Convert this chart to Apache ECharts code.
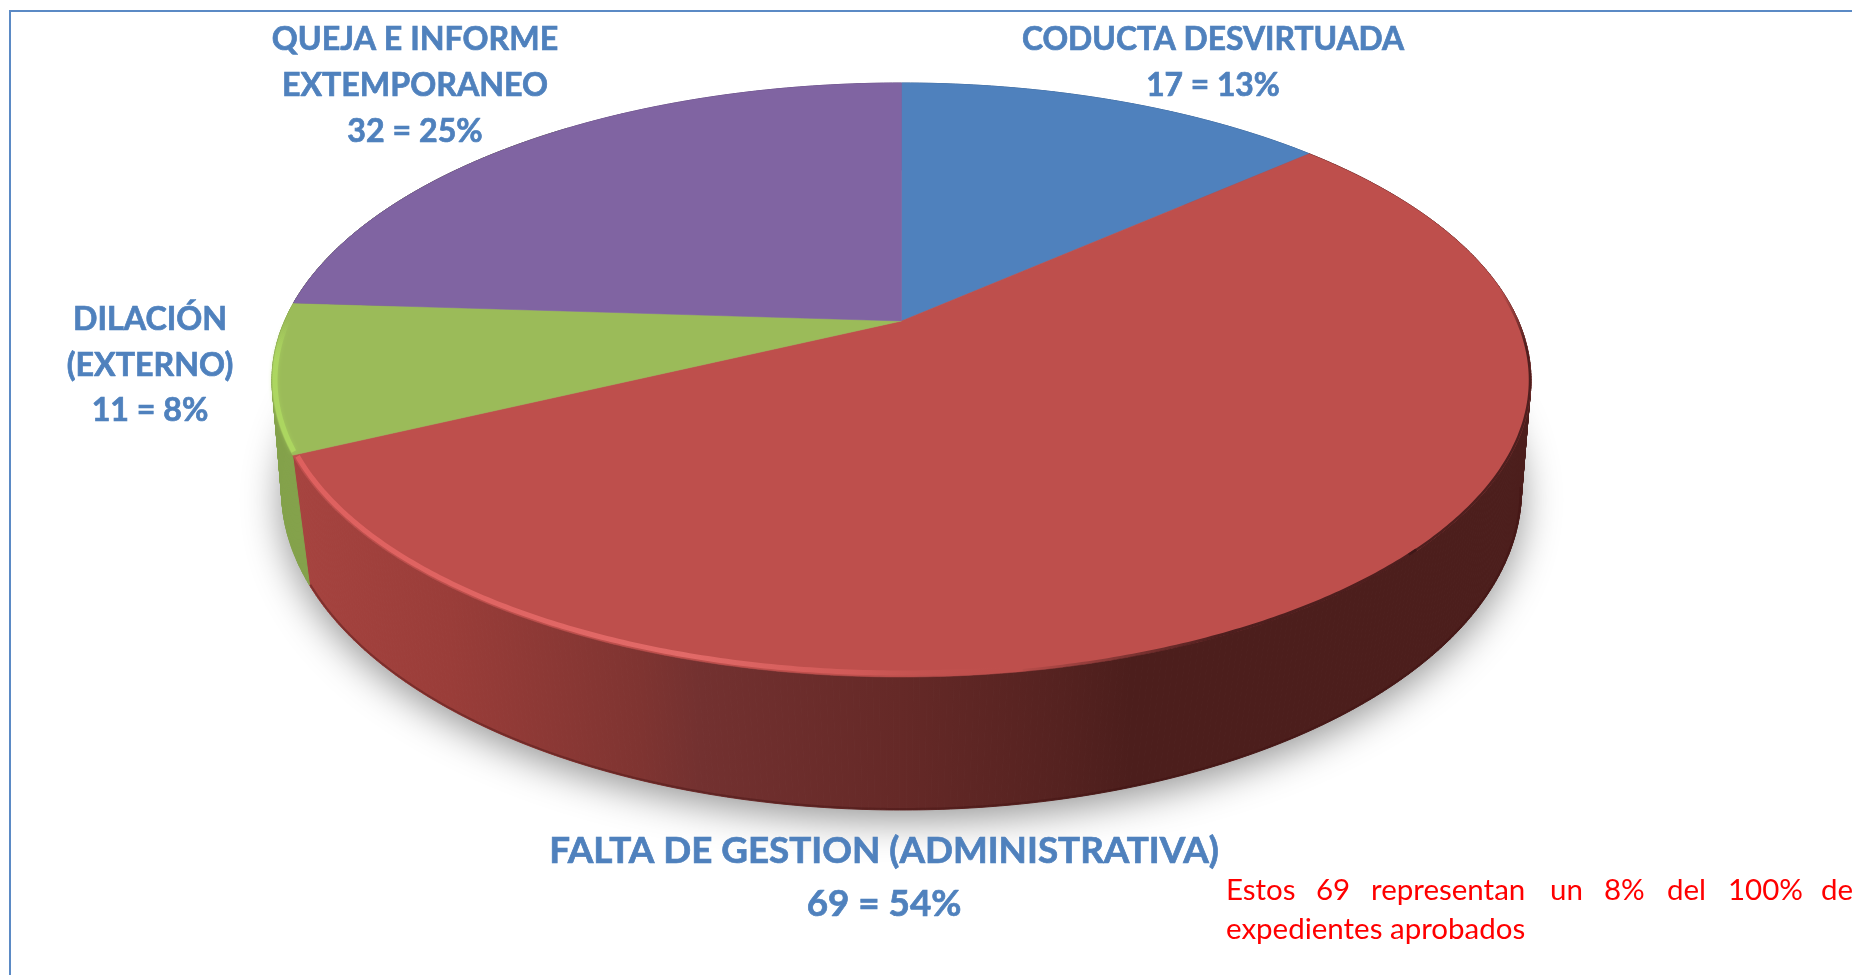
<!DOCTYPE html>
<html><head><meta charset="utf-8">
<style>html,body{margin:0;padding:0;background:#fff;overflow:hidden}#c{width:1852px;height:975px}</style>
<script src="https://cdn.jsdelivr.net/npm/echarts@6/dist/echarts.min.js"></script>
</head><body><div id="c"></div>
<script>
// ---- data ----
const categories = ['CODUCTA DESVIRTUADA', 'FALTA DE GESTION (ADMINISTRATIVA)', 'DILACIÓN (EXTERNO)', 'QUEJA E INFORME EXTEMPORANEO'];
const values = [17, 69, 11, 32];
const percents = [13, 54, 8, 25];
const colors = ['#4F81BD', '#BE4F4C', '#9BBB59', '#8064A2'];
const wallColors = ['#3F6797', '#A3423D', '#84A24B', '#664E82'];
const labelLines = [['CODUCTA DESVIRTUADA'], ['FALTA DE GESTION (ADMINISTRATIVA)'], ['DILACIÓN', '(EXTERNO)'], ['QUEJA E INFORME', 'EXTEMPORANEO']];
const noteWords = ['Estos', '69', 'representan', 'un', '8%', 'del', '100%', 'de'];
const noteLine2 = 'expedientes aprobados';

// ---- layout only ----
const labelPos = [
  {x: 1213, y: 40, lh: 45.5, size: 31.8},
  {x: 884, y: 851, lh: 53, size: 36.8},
  {x: 150, y: 320, lh: 45.5, size: 32.2},
  {x: 415, y: 39.5, lh: 46, size: 32.2}
];
const noteX = [1226, 1316, 1371, 1550, 1604, 1667, 1728, 1821];
const topDisc = {cx: 901.5, cy: 380, rx: 629.5, ry: 297, v0: -59 / 297};
const botDisc = {cx: 901.5, cy: 490, rx: 620, ry: 320, v0: -0.153};
const total = values.reduce((a, b) => a + b, 0);
const angles = []; values.reduce((s, v, i) => { angles[i] = [s / total * 360, (s + v) / total * 360]; return s + v; }, 0);

// perspective projection of a pie angle (clockwise from 12 o'clock) on a tilted disc
function proj(e, deg, inset) {
  const s = Math.sin(deg * Math.PI / 360);
  const t = (deg + 6 * s * s) * Math.PI / 180;
  const X = Math.sin(t), Y = -Math.cos(t), d = 1 + e.v0 * Y;
  const u = X * Math.sqrt(1 - e.v0 * e.v0) / d, v = (Y + e.v0) / d;
  const i = inset || 0;
  return [e.cx + u * (e.rx - i), e.cy + v * (e.ry - i)];
}
function arc(e, a, b, inset) {
  const n = Math.max(2, Math.ceil(Math.abs(b - a) * 2)), p = [];
  for (let i = 0; i <= n; i++) p.push(proj(e, a + (b - a) * i / n, inset));
  return p;
}
const G = (x0, y0, x1, y1, stops) => new echarts.graphic.LinearGradient(x0, y0, x1, y1, stops.map(s => ({offset: s[0], color: s[1]})), true);
const indexData = values.map((v, i) => [i, v]);

// wall shading across the picture
const xs = x => (x - 300) / 830;
const redWall = G(300, 0, 1130, 0, [[0, '#A6433F'], [xs(450), '#9A3D39'], [xs(640), '#7F3431'], [xs(700), '#733130'], [xs(900), '#652927'], [xs(1060), '#552220'], [1, '#4C1E1C']]);
const wallFill = [wallColors[0], redWall, wallColors[2], wallColors[3]];
const redRim = G(295, 0, 1010, 0, [[0, '#DE605E'], [0.55, '#E26A68'], [0.78, 'rgba(216,94,92,0.75)'], [1, 'rgba(190,79,76,0)']]);
const greenRim = G(0, 320, 0, 450, [[0, 'rgba(172,214,96,0)'], [0.3, '#ACD660'], [1, '#ACD660']]);
const darkEdgeUpper = G(0, 290, 0, 345, [[0, 'rgba(60,22,22,0)'], [1, 'rgba(60,22,22,0.85)']]);
const darkEdgeLower = G(1010, 0, 1220, 0, [[0, 'rgba(60,22,22,0)'], [1, 'rgba(60,22,22,0.85)']]);

const option = {
  backgroundColor: '#fff', animation: false,
  graphic: [
    {type: 'rect', silent: true, z: 0, shape: {x: 10, y: 11, width: 2000, height: 1000}, style: {fill: 'none', stroke: '#5B8AC5', lineWidth: 2}},
    ...noteWords.map((w, i) => ({type: 'text', silent: true, z: 20, x: noteX[i], y: 890, style: {text: w, fill: '#FF0000', font: '29.5px Lato', verticalAlign: 'middle'}})),
    {type: 'text', silent: true, z: 20, x: 1226, y: 929, style: {text: noteLine2, fill: '#FF0000', font: '29.5px Lato', verticalAlign: 'middle'}}
  ],
  series: [
    { // drop shadow under the disc
      type: 'custom', coordinateSystem: 'none', silent: true, z: 1, data: [[0]],
      renderItem: () => ({type: 'polygon', shape: {points: arc(botDisc, 0, 359.5)},
        style: {fill: '#b0b0b0', shadowBlur: 38, shadowColor: 'rgba(0,0,0,0.42)', shadowOffsetX: 0, shadowOffsetY: 10}})
    },
    { // side walls: one quad per small angular step so the silhouette between both rims stays full
      type: 'custom', coordinateSystem: 'none', silent: true, z: 2, data: indexData,
      renderItem: (p, api) => {
        const i = api.value(0), a = angles[i];
        const end = i === 2 ? a[1] + 50 : a[1];
        const T = arc(topDisc, a[0], end), B = arc(botDisc, a[0], end), children = [];
        for (let k = 0; k < T.length - 1; k++) {
          children.push({type: 'polygon', shape: {points: [T[k], T[k + 1], B[k + 1], B[k]]}, style: {fill: wallFill[i], stroke: wallFill[i], lineWidth: 1}});
        }
        return {type: 'group', children};
      }
    },
    { // thin darker foot of the wall
      type: 'custom', coordinateSystem: 'none', silent: true, z: 2.5, data: [[1]],
      renderItem: (p, api) => {
        const a = angles[api.value(0)];
        return {type: 'polyline', shape: {points: arc(botDisc, 95, a[1], 1)}, style: {fill: 'none', stroke: 'rgba(60,15,15,0.35)', lineWidth: 2}};
      }
    },
    { // top face
      type: 'custom', coordinateSystem: 'none', silent: true, z: 3, data: indexData,
      renderItem: (p, api) => {
        const i = api.value(0), a = angles[i];
        const c = [topDisc.cx, topDisc.cy + topDisc.ry * topDisc.v0];
        return {type: 'polygon', shape: {points: [c].concat(arc(topDisc, a[0], a[1]))}, style: {fill: colors[i], stroke: colors[i], lineWidth: 0.5}};
      }
    },
    { // bevelled rim of the two front slices
      type: 'custom', coordinateSystem: 'none', silent: true, z: 4, data: [[1], [2]],
      renderItem: (p, api) => {
        const i = api.value(0), a = angles[i];
        if (i === 2) {
          return {type: 'polyline', shape: {points: arc(topDisc, a[0] + 0.6, a[1] + 6, 3)},
            style: {fill: 'none', stroke: greenRim, lineWidth: 5, shadowBlur: 4, shadowColor: 'rgba(172,214,96,0.6)'}};
        }
        return {type: 'group', children: [
          {type: 'polyline', shape: {points: arc(topDisc, 75, 130, 1)},
            style: {fill: 'none', stroke: darkEdgeUpper, lineWidth: 2.5}},
          {type: 'polyline', shape: {points: arc(topDisc, 129, 165, 1)},
            style: {fill: 'none', stroke: darkEdgeLower, lineWidth: 3}},
          {type: 'polyline', shape: {points: arc(topDisc, 150, a[1] - 0.4, 4)},
            style: {fill: 'none', stroke: redRim, lineWidth: 5}}
        ]};
      }
    },
    { // data labels
      type: 'custom', coordinateSystem: 'none', silent: true, z: 10, data: indexData,
      renderItem: (p, api) => {
        const i = api.value(0), l = labelPos[i];
        const lines = labelLines[i].concat([values[i] + ' = ' + percents[i] + '%']);
        return {type: 'group', children: lines.map((t, k) => ({type: 'text', x: l.x, y: l.y + k * l.lh,
          style: {text: t, fill: '#4F81BD', stroke: '#4F81BD', lineWidth: 0.7, font: 'bold ' + l.size + 'px Lato', align: 'center', verticalAlign: 'middle'}}))};
      }
    }
  ]
};
const chart = echarts.init(document.getElementById('c'), null, {renderer: 'canvas'});
chart.setOption(option);
</script></body></html>
